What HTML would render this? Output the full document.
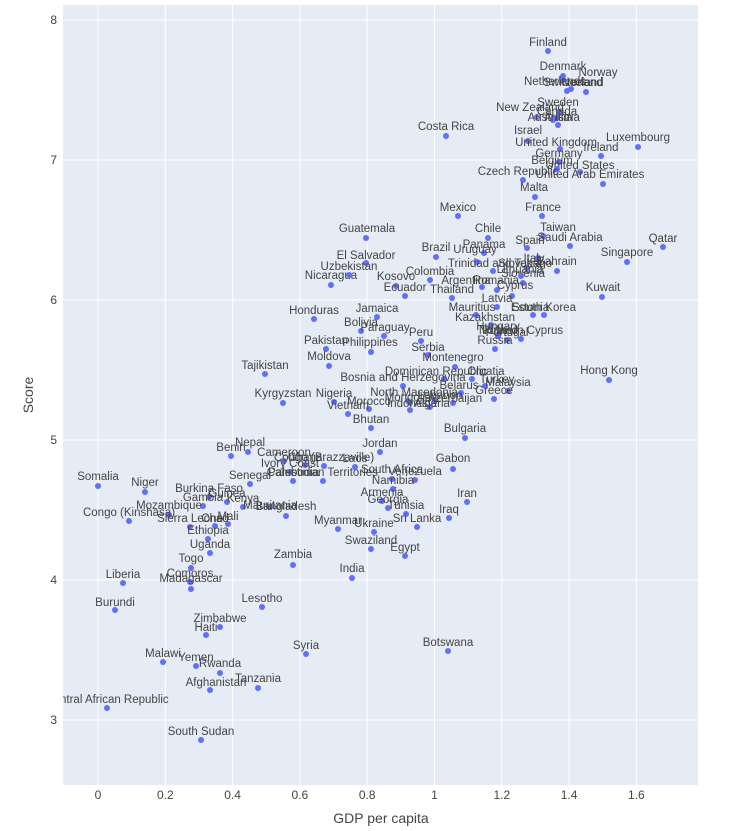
<!DOCTYPE html>
<html><head><meta charset="utf-8">
<style>
html,body{margin:0;padding:0;background:#fff;}
svg{display:block;font-family:"Liberation Sans",Arial,sans-serif;}
</style></head>
<body>
<svg id="s" width="752" height="831" xmlns="http://www.w3.org/2000/svg">
<defs><clipPath id="c"><rect x="63" y="5" width="635" height="780"/></clipPath></defs>
<rect x="63" y="5" width="635" height="780" fill="#e5ecf6"/>
<g id="grid" stroke="#fff" stroke-width="1"></g>
<g id="ticks" font-size="12" fill="#444"></g>
<g id="pts" clip-path="url(#c)"></g>
<text x="381" y="823" font-size="14" fill="#444" text-anchor="middle">GDP per capita</text>
<text transform="translate(33,395) rotate(-90)" font-size="14" fill="#444" text-anchor="middle">Score</text>
</svg>
<script>
var NS="http://www.w3.org/2000/svg";
function el(t,a,p,txt){var e=document.createElementNS(NS,t);for(var k in a)e.setAttribute(k,a[k]);if(txt!=null)e.textContent=txt;p.appendChild(e);return e;}
var g=document.getElementById('grid'),tk=document.getElementById('ticks'),pt=document.getElementById('pts');
for(var i=0;i<=8;i++){var x=98+i*67.3;el('line',{x1:x,x2:x,y1:5,y2:785},g);el('text',{x:x,y:799,'text-anchor':'middle'},tk,i==0?'0':(i*0.2).toFixed(1).replace(/\.0$/,''));}
for(var v=3;v<=8;v++){var y=720-(v-3)*140;el('line',{x1:63,x2:698,y1:y,y2:y},g);el('text',{x:57,y:y+4,'text-anchor':'end'},tk,String(v));}
var D=[
["Finland",548,51,548,42],["Denmark",563,76,563,66],["Norway",586,92,598,72],["Netherlands",563,80,555,81],["Iceland",567,91,585,82],["Switzerland",571,89,573,82],
["Sweden",559,112,558,102],["New Zealand",537,117,530,107],["Canada",556,118,557,111],["Austria",558,125,562,117],["Australia",553,120,550,117],
["Israel",528,141,528,130],["United Kingdom",560,149,556,142],["Costa Rica",446,136,446,126],["Luxembourg",638,147,638,137],["Ireland",601,156,601,147],
["Germany",559,162,559,153],["United States",580,172,580,165],["Belgium",557,169,552,160],["Czech Republic",523,180,518,171],["United Arab Emirates",603,184,590,174],
["Malta",535,197,534,187],["France",542,216,543,207],["Mexico",458,216,458,207],["Taiwan",543,236,558,227],["Chile",488,238,488,228],["Saudi Arabia",570,246,570,237],
["Spain",527,248,530,240],["Qatar",663,247,663,238],["Panama",484,253,484,244],["Guatemala",366,238,367,228],["Brazil",436,257,436,247],["Uruguay",477,262,475,249],
["Italy",538,258,534,258],["Singapore",627,262,627,252],["Trinidad and Tobago",493,271,500,263],["Slovakia",527,268,520,263],["Bahrain",557,271,557,261],
["El Salvador",366,263,366,255],["Nicaragua",331,285,331,275],["Uzbekistan",349,275,349,266],["Kosovo",396,286,396,276],["Colombia",430,280,430,271],
["Argentina",482,287,466,280],["Romania",497,290,496,280],["Slovenia",523,283,523,273],["Lithuania",521,276,520,269],["Ecuador",405,296,405,287],
["Thailand",452,298,452,289],["Cyprus",512,296,515,285],["Kuwait",602,297,603,287],["Latvia",497,307,497,298],["Jamaica",377,317,377,308],["Honduras",314,319,314,310],
["Mauritius",476,315,472,307],["Estonia",533,315,530,307],["South Korea",544,315,544,307],["Kazakhstan",491,325,485,317],["Bolivia",361,331,361,322],
["Paraguay",384,336,385,327],["Hungary",498,335,498,326],["Poland",498,336,500,330],["Portugal",507,340,507,332],["Northern Cyprus",521,339,521,330],
["Peru",421,341,421,332],["Pakistan",326,349,326,340],["Philippines",371,352,370,342],["Russia",495,349,495,340],["Serbia",428,355,428,347],
["Moldova",329,366,329,356],["Montenegro",455,367,453,357],["Tajikistan",265,374,265,365],["Hong Kong",609,380,609,370],["Dominican Republic",444,379,436,371],
["Croatia",472,379,486,371],["Bosnia and Herzegovina",403,386,403,377],["Turkey",485,386,497,379],["Malaysia",508,391,508,382],["Belarus",461,393,459,385],
["Greece",494,399,494,390],["North Macedonia",408,401,414,392],["Nigeria",334,402,334,393],["Kyrgyzstan",283,403,283,393],["Mongolia",410,403,408,397],
["Lebanon",435,400,440,395],["Azerbaijan",453,403,455,398],["Indonesia",410,410,412,403],["Algeria",430,407,432,403],
["Morocco",369,409,369,401],["Vietnam",348,414,348,405],["Bhutan",371,428,371,419],["Jordan",380,452,380,443],["Bulgaria",465,438,465,428],
["Cameroon",284,461,284,452],["Ghana",305,465,305,457],["Ivory Coast",290,472,290,463],["Benin",231,456,231,447],["Nepal",248,452,250,442],
["Congo (Brazzaville)",324,466,324,457],["Laos",355,467,355,458],["Gabon",453,469,453,458],["Senegal",250,484,250,475],["Cambodia",293,481,293,472],
["Palestinian Territories",323,481,323,472],["South Africa",392,479,392,469],["Venezuela",415,480,415,471],["Niger",145,492,145,482],["Somalia",98,486,98,476],
["Namibia",393,489,393,480],["Burkina Faso",209,497,209,488],["Gambia",203,506,203,497],["Guinea",227,502,227,493],["Armenia",382,501,382,492],
["Iran",467,502,467,493],["Georgia",388,508,388,499],["Tunisia",406,514,406,505],["Mozambique",169,515,169,505],["Kenya",243,507,243,498],
["Mauritania",270,507,270,505],["Bangladesh",286,516,286,506],["Iraq",449,518,449,509],["Congo (Kinshasa)",129,521,129,512],["Sierra Leone",190,527,190,518],
["Chad",215,526,215,518],["Mali",228,524,228,516],["Myanmar",338,529,338,520],["Ukraine",374,532,374,523],["Sri Lanka",417,527,417,518],
["Ethiopia",208,539,208,530],["Swaziland",371,549,371,540],["Uganda",210,553,210,544],["Egypt",405,556,405,547],["Zambia",293,565,293,554],
["Togo",191,568,191,558],["India",352,578,352,568],["Comoros",190,582,190,573],["Madagascar",191,589,191,578],["Liberia",123,583,123,574],
["Burundi",115,610,115,602],["Lesotho",262,607,262,598],["Zimbabwe",220,627,220,618],["Haiti",206,635,206,627],["Botswana",448,651,448,642],
["Syria",306,654,306,645],["Malawi",163,662,163,653],["Yemen",196,666,196,657],["Rwanda",220,673,220,663],["Afghanistan",210,690,216,682],
["Tanzania",258,688,258,678],["Central African Republic",107,708,107,699],["South Sudan",201,740,201,731]
];
D.forEach(function(d){
 el('circle',{cx:d[1],cy:d[2],r:3,fill:'#636efa'},pt);
 el('text',{x:d[3],y:d[4]+4,'text-anchor':'middle','font-size':'11.5',fill:'#444'},pt,d[0]);
});
</script>
</body></html>
